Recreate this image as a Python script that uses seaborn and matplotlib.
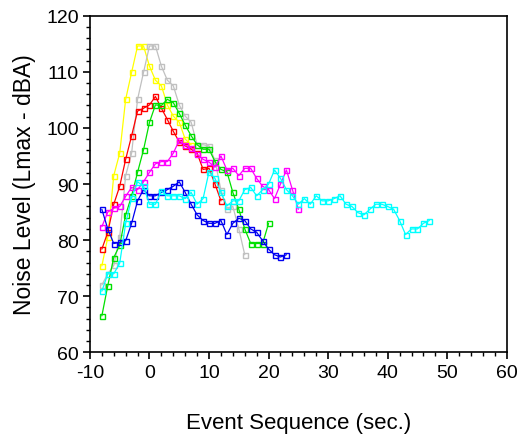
import matplotlib
matplotlib.use("Agg")
import matplotlib.pyplot as plt
import matplotlib.transforms as mtransforms
from matplotlib.ticker import MultipleLocator
import numpy as np
import pandas as pd
import seaborn as sns

# event sequence, one reading per second, each series starts at -8 s
yellow = [75.4, 80.5, 91.5, 95.5, 105.1, 109.9, 114.6, 114.6, 111.0, 108.5, 107.5,
          104.1, 102.1, 101.0, 98.0, 97.0]
gray = [72.0, 74.0, 75.5, 80.5, 91.5, 95.5, 105.1, 109.9, 114.6, 114.6, 111.0, 108.5,
        107.5, 104.1, 102.1, 101.0, 97.0, 97.0, 96.8, 94.2, 88.9, 85.5, 86.0, 82.0, 77.4]
red = [78.4, 81.4, 86.4, 89.6, 94.4, 98.6, 103.0, 103.5, 104.1, 105.6, 103.5, 101.5,
       99.4, 97.5, 96.8, 96.2, 95.5, 92.6, 92.8, 90.0, 87.0]
green = [66.5, 71.9, 76.9, 79.1, 84.5, 87.9, 92.1, 96.1, 101.0, 104.1, 104.0, 105.1,
         104.5, 102.6, 100.5, 98.6, 97.0, 96.2, 96.2, 94.0, 92.6, 92.2, 88.5, 85.5,
         82.0, 79.4, 79.4, 79.4, 83.0]
magenta = [82.4, 85.0, 85.7, 86.0, 87.8, 89.4, 89.0, 90.4, 92.1, 93.6, 94.0, 94.0,
           95.5, 97.8, 96.9, 96.5, 95.3, 94.4, 93.9, 93.0, 95.0, 92.5, 92.8, 91.5,
           92.8, 92.8, 91.0, 89.6, 89.0, 87.4, 90.0, 92.5, 89.0, 85.5]
blue = [85.5, 82.0, 79.4, 79.6, 79.9, 83.0, 87.0, 89.0, 87.9, 87.9, 88.5, 89.0, 89.6,
        90.4, 88.5, 86.4, 84.5, 83.5, 83.0, 83.0, 83.5, 81.0, 83.0, 83.9, 83.5, 82.0,
        81.4, 79.9, 78.4, 77.4, 77.0, 77.4]
cyan = [70.9, 74.0, 74.0, 75.9, 83.0, 87.5, 90.4, 89.6, 86.4, 86.4, 88.8, 87.9, 87.9,
        87.9, 87.4, 88.5, 86.4, 87.4, 92.2, 91.0, 88.5, 86.1, 87.0, 87.0, 89.0, 89.4,
        87.9, 89.0, 90.0, 92.5, 91.0, 89.0, 87.9, 86.4, 87.4, 86.4, 87.9, 87.0, 87.0,
        87.4, 87.9, 86.4, 86.0, 84.9, 84.5, 85.5, 86.4, 86.4, 86.0, 85.5, 83.5, 81.0,
        82.0, 82.0, 83.0, 83.5]

series = [
    ("yellow", yellow, "#ffff00"),
    ("gray", gray, "#c0c0c0"),
    ("red", red, "#ff0000"),
    ("green", green, "#00e000"),
    ("magenta", magenta, "#ff00ff"),
    ("blue", blue, "#0000f0"),
    ("cyan", cyan, "#00ffff"),
]
start = -8

sns.set_style("ticks")
plt.rcParams["font.family"] = ["Liberation Sans", "DejaVu Sans"]
plt.rcParams["axes.unicode_minus"] = False
plt.rcParams["text.color"] = "black"
plt.rcParams["axes.labelcolor"] = "black"

fig = plt.figure(figsize=(5.29, 4.39), dpi=100)
ax = fig.add_axes([0.170, 0.195, 0.788, 0.767])

for name, vals, color in series:
    df = pd.DataFrame({"t": np.arange(start, start + len(vals)), "level": vals})
    sns.lineplot(data=df, x="t", y="level", ax=ax, color=color, lw=0.9,
                 marker="s", markersize=3.6, markerfacecolor="none",
                 markeredgecolor=color, markeredgewidth=1.0, sort=False,
                 estimator=None)

ax.set_xlim(-10, 60)
ax.set_ylim(60, 120)
ax.xaxis.set_major_locator(MultipleLocator(10))
ax.xaxis.set_minor_locator(MultipleLocator(2))
ax.yaxis.set_major_locator(MultipleLocator(10))
ax.yaxis.set_minor_locator(MultipleLocator(2))
ax.tick_params(which="major", length=5, width=1.2, labelsize=14, color="black",
               labelcolor="black", pad=3)
ax.tick_params(which="minor", length=3, width=1.0, color="black")
for s in ax.spines.values():
    s.set_color("black")
    s.set_linewidth(1.2)

ax.set_xlabel("Event Sequence (sec.)", fontsize=16, labelpad=23, color="black")
ax.set_ylabel("Noise Level (Lmax - dBA)", fontsize=16.5, labelpad=7, color="black")

# bottom y label sits a little above its tick in the original
fig.canvas.draw()
lab = ax.yaxis.get_major_ticks()[0].label1
lab.set_transform(lab.get_transform() + mtransforms.ScaledTranslation(0, 7 / 72, fig.dpi_scale_trans))

fig.savefig("out.png", dpi=100)
